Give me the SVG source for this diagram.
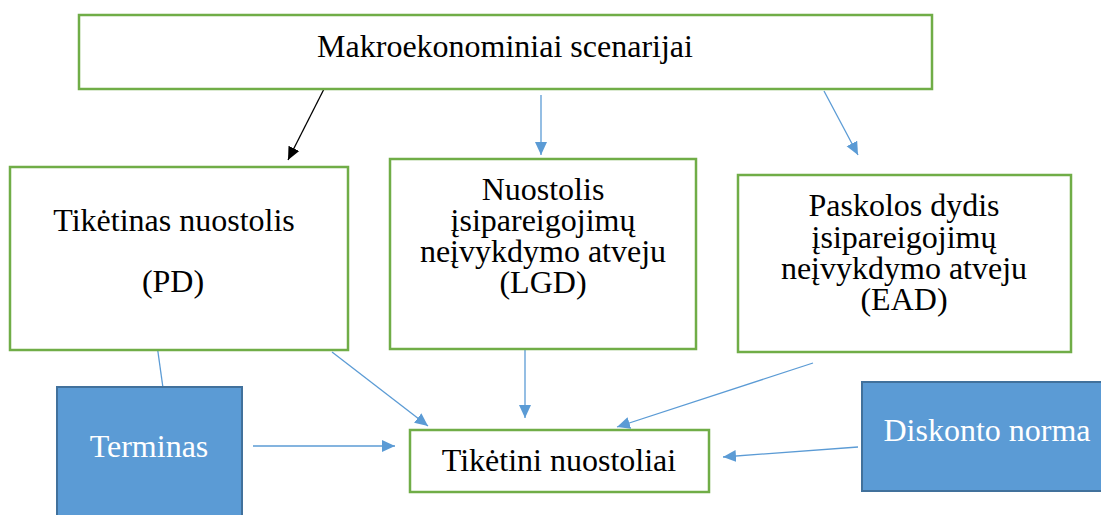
<svg xmlns="http://www.w3.org/2000/svg" width="1101" height="515" viewBox="0 0 1101 515">
<style>
.box{fill:#ffffff;stroke:#70AD47;stroke-width:2.5}
.blue{fill:#5B9BD5;stroke:#41719C;stroke-width:2}
.t{font-family:"Liberation Serif","Times New Roman",serif;font-size:32px;fill:#000;text-anchor:middle}
.w{fill:#ffffff}
.c{stroke:#5B9BD5;stroke-width:1.3;fill:none}
.k{stroke:#000;stroke-width:1.3;fill:none}
</style>
<defs>
<marker id="ab" markerUnits="userSpaceOnUse" markerWidth="14" markerHeight="14" viewBox="0 0 14 14" refX="13" refY="7" orient="auto">
<path d="M0,1 L13,7 L0,13 Z" fill="#5B9BD5"/>
</marker>
<marker id="ak" markerUnits="userSpaceOnUse" markerWidth="14" markerHeight="14" viewBox="0 0 14 14" refX="13" refY="7" orient="auto">
<path d="M0,1 L13,7 L0,13 Z" fill="#000"/>
</marker>
</defs>
<g id="connectors">
<line class="k" x1="324" y1="89" x2="288" y2="160" marker-end="url(#ak)"/>
<line class="c" x1="541" y1="95" x2="541" y2="155" marker-end="url(#ab)"/>
<line class="c" x1="824" y1="91" x2="858" y2="155" marker-end="url(#ab)"/>
<line class="c" x1="157" y1="345" x2="163" y2="388"/>
<line class="c" x1="332" y1="352" x2="428" y2="426" marker-end="url(#ab)"/>
<line class="c" x1="525" y1="345" x2="525" y2="418" marker-end="url(#ab)"/>
<line class="c" x1="813" y1="363" x2="617" y2="427" marker-end="url(#ab)"/>
<line class="c" x1="858" y1="447" x2="723" y2="457" marker-end="url(#ab)"/>
<line class="c" x1="253" y1="446" x2="395" y2="446" marker-end="url(#ab)"/>
</g>
<g id="makro">
<rect class="box" x="79" y="15" width="853" height="74"/>
<text class="t" x="505" y="57">Makroekonominiai scenarijai</text>
</g>
<g id="pd">
<rect class="box" x="10" y="167" width="338" height="183"/>
<text class="t" x="174" y="231">Tikėtinas nuostolis</text>
<text class="t" x="173" y="292">(PD)</text>
</g>
<g id="lgd">
<rect class="box" x="390" y="159" width="306" height="190"/>
<text class="t" x="543" y="200">Nuostolis</text>
<text class="t" x="543" y="231">įsipareigojimų</text>
<text class="t" x="543" y="262">neįvykdymo atveju</text>
<text class="t" x="543" y="293">(LGD)</text>
</g>
<g id="ead">
<rect class="box" x="738" y="175" width="333" height="177"/>
<text class="t" x="904" y="216">Paskolos dydis</text>
<text class="t" x="904" y="248">įsipareigojimų</text>
<text class="t" x="904" y="279">neįvykdymo atveju</text>
<text class="t" x="904" y="310">(EAD)</text>
</g>
<g id="terminas">
<rect class="blue" x="57" y="387" width="185" height="140"/>
<text class="t w" x="149" y="457">Terminas</text>
</g>
<g id="diskonto">
<rect class="blue" x="862" y="382" width="250" height="109"/>
<text class="t w" x="987" y="441">Diskonto norma</text>
</g>
<g id="tiketini">
<rect class="box" x="410" y="430" width="299" height="62"/>
<text class="t" x="559" y="471">Tikėtini nuostoliai</text>
</g>
</svg>
